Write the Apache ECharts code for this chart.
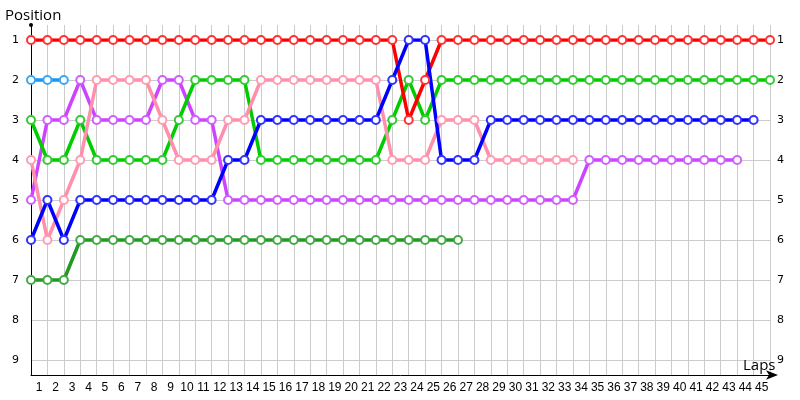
<!DOCTYPE html>
<html><head><meta charset="utf-8">
<script src="https://cdn.jsdelivr.net/npm/echarts@6/dist/echarts.min.js"></script>
<style>html,body{margin:0;padding:0;background:#fff}#c{width:800px;height:400px}</style>
</head><body><div id="c"></div>
<script>
var lapLabels = ["1","2","3","4","5","6","7","8","9","10","11","12","13","14","15","16","17","18","19","20","21","22","23","24","25","26","27","28","29","30","31","32","33","34","35","36","37","38","39","40","41","42","43","44","45"];
var positionLabels = [1,2,3,4,5,6,7,8,9];
// positions by lap (index 0 = start)
var red = [1,1,1,1,1,1,1,1,1,1,1,1,1,1,1,1,1,1,1,1,1,1,1,3,2,1,1,1,1,1,1,1,1,1,1,1,1,1,1,1,1,1,1,1,1,1];
var lightBlue = [2,2,2];
var green = [3,4,4,3,4,4,4,4,4,3,2,2,2,2,4,4,4,4,4,4,4,4,3,2,3,2,2,2,2,2,2,2,2,2,2,2,2,2,2,2,2,2,2,2,2,2];
var purple = [5,3,3,2,3,3,3,3,2,2,3,3,5,5,5,5,5,5,5,5,5,5,5,5,5,5,5,5,5,5,5,5,5,5,4,4,4,4,4,4,4,4,4,4];
var pink = [4,6,5,4,2,2,2,2,3,4,4,4,3,3,2,2,2,2,2,2,2,2,4,4,4,3,3,3,4,4,4,4,4,4];
var blue = [6,5,6,5,5,5,5,5,5,5,5,5,4,4,3,3,3,3,3,3,3,3,2,1,1,4,4,4,3,3,3,3,3,3,3,3,3,3,3,3,3,3,3,3,3];
var darkGreen = [7,7,7,6,6,6,6,6,6,6,6,6,6,6,6,6,6,6,6,6,6,6,6,6,6,6,6];

var drivers = [
  {data: darkGreen, color: '#229922', mark: '#44aa44'},
  {data: lightBlue, color: '#1599f5', mark: '#3aa8f5'},
  {data: purple, color: '#cc44ff', mark: '#d060ff'},
  {data: green, color: '#00cc00', mark: '#33cc33'},
  {data: pink, color: '#ff8fab', mark: '#ff9cb5'},
  {data: red, color: '#ff0000', mark: '#ff3333'},
  {data: blue, color: '#0000ff', mark: '#3333ff'}
];

var chart = echarts.init(document.getElementById('c'), null, {renderer: 'canvas'});
var G = {left: 31, right: 30};
var option = {
  animation: false,
  backgroundColor: '#fff',
  title: [
    {text: 'Position', left: 0, top: 3, textStyle: {fontFamily: 'Open Sans', fontSize: 15, fontWeight: 'normal', color: '#000'}},
    {text: 'Laps', left: 738, top: 353, textStyle: {fontFamily: 'Open Sans', fontSize: 15, fontWeight: 'normal', color: '#000'}}
  ],
  grid: [
    {left: G.left, right: G.right, top: 25, bottom: 25},
    {left: G.left, right: G.right, top: 40, bottom: 40}
  ],
  xAxis: [
    {gridIndex: 0, type: 'value', min: 0, max: 45, interval: 1,
     axisLabel: {show: false}, axisTick: {show: false},
     axisLine: {show: true, lineStyle: {color: '#000', width: 1}, symbol: ['none', 'arrow'], symbolSize: [7, 12], symbolOffset: [0, 8]},
     splitLine: {show: true, lineStyle: {color: '#cccccc', width: 1}}},
    {gridIndex: 0, type: 'category', data: lapLabels, boundaryGap: true, position: 'bottom',
     axisLine: {show: false}, axisTick: {show: false}, splitLine: {show: false},
     axisLabel: {interval: 0, margin: 7, fontSize: 12, fontFamily: 'Liberation Sans', color: '#000'}},
    {gridIndex: 1, type: 'value', min: 0, max: 45, show: false}
  ],
  yAxis: [
    {gridIndex: 0, type: 'value', min: 0, max: 1,
     axisLabel: {show: false}, axisTick: {show: false}, splitLine: {show: false},
     axisLine: {show: true, lineStyle: {color: '#000', width: 1}, symbol: ['none', 'circle'], symbolSize: [4, 4]}},
    {gridIndex: 1, type: 'value', min: 1, max: 9, interval: 1, inverse: true, position: 'left',
     axisLine: {show: false}, axisTick: {show: false},
     axisLabel: {margin: 12, fontSize: 11, fontFamily: 'DejaVu Sans', color: '#000'},
     splitLine: {show: true, lineStyle: {color: '#cccccc', width: 1}}},
    {gridIndex: 1, type: 'value', min: 1, max: 9, interval: 1, inverse: true, position: 'right',
     axisLine: {show: false}, axisTick: {show: false}, splitLine: {show: false},
     axisLabel: {margin: 7, fontSize: 11, fontFamily: 'DejaVu Sans', color: '#000'}}
  ],
  series: drivers.map(function (d) {
    return {
      type: 'line', xAxisIndex: 2, yAxisIndex: 1,
      data: d.data.map(function (p, i) { return [i, p]; }),
      symbol: 'emptyCircle', symbolSize: 8,
      lineStyle: {color: d.color, width: 3.5},
      itemStyle: {color: d.mark, borderColor: d.mark, borderWidth: 1},
      emphasis: {disabled: true}
    };
  })
};
chart.setOption(option);
</script></body></html>
